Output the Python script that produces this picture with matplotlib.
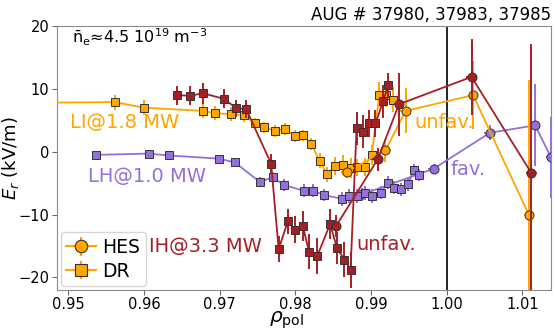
import matplotlib
matplotlib.use('Agg')
import matplotlib.pyplot as plt

# --- data: E_r profiles (kV/m) vs rho_pol ---
# LI @ 1.8 MW (orange)
li_dr_x = [0.9470, 0.9561, 0.9600, 0.9678, 0.9694, 0.9715, 0.9732, 0.9747, 0.9759, 0.9773,
           0.9786, 0.9800, 0.9810, 0.9821, 0.9832, 0.9842, 0.9853, 0.9863, 0.9873, 0.9882,
           0.9892, 0.9901, 0.9911, 0.9920, 0.9929]
li_dr_y = [7.8, 7.9, 7.0, 6.5, 6.1, 6.0, 5.8, 4.5, 3.9, 3.3,
           3.6, 2.5, 2.6, 1.2, -1.4, -3.6, -2.3, -2.1, -2.6, -2.5,
           -2.4, -0.5, 9.1, 9.1, 8.3]
li_dr_err = [1.2, 1.2, 1.2, 1.2, 1.1, 1.1, 1.1, 0.9, 0.9, 0.9,
             0.9, 0.9, 0.9, 1.0, 1.2, 1.2, 1.4, 1.6, 1.6, 1.4,
             1.4, 1.6, 2.0, 2.0, 2.0]
li_hes_x = [0.9868, 0.9919, 0.9946, 1.0035, 1.0109]
li_hes_y = [-3.2, 0.2, 6.5, 9.0, -10.1]
li_hes_err = [1.0, 1.8, 3.6, 5.4, 21.5]

# LH @ 1.0 MW (purple)
lh_dr_x = [0.9536, 0.9606, 0.9633, 0.9699, 0.9720, 0.9753, 0.9770, 0.9785, 0.9811, 0.9824,
           0.9838, 0.9862, 0.9871, 0.9882, 0.9892, 0.9901, 0.9913, 0.9922, 0.9931, 0.9940,
           0.9949, 0.9957, 0.9964]
lh_dr_y = [-0.5, -0.3, -0.6, -1.1, -1.7, -4.8, -4.1, -5.3, -6.2, -6.2,
           -6.9, -7.5, -7.1, -7.0, -6.6, -7.0, -6.5, -4.9, -5.7, -6.0,
           -5.2, -2.9, -3.7]
lh_dr_err = [0.4, 0.4, 0.4, 0.5, 0.5, 0.8, 0.9, 0.9, 1.0, 1.0,
             1.0, 1.1, 1.1, 1.1, 1.1, 1.1, 1.0, 1.0, 1.0, 1.0,
             1.0, 0.9, 0.9]
lh_hes_x = [0.9888, 0.9983, 1.0057, 1.0117, 1.0138]
lh_hes_y = [-6.8, -2.7, 3.0, 4.2, -0.9]
lh_hes_err = [1.0, 0.8, 1.2, 6.5, 6.5]

# IH @ 3.3 MW (dark red)
ih_dr_x = [0.9643, 0.9661, 0.9678, 0.9706, 0.9722, 0.9735, 0.9768, 0.9778, 0.9790, 0.9800,
           0.9810, 0.9818, 0.9829, 0.9846, 0.9855, 0.9865, 0.9873, 0.9881, 0.9890, 0.9898,
           0.9906, 0.9916, 0.9923]
ih_dr_y = [9.0, 8.9, 9.3, 8.4, 6.9, 6.8, -1.9, -15.5, -11.1, -12.4,
           -11.8, -15.9, -16.6, -11.5, -15.3, -17.2, -18.8, 3.7, 3.2, 4.5,
           4.5, 8.0, 10.6]
ih_dr_err = [1.5, 1.5, 1.7, 1.5, 1.4, 1.5, 1.5, 2.1, 2.0, 2.2,
             2.4, 2.8, 2.8, 2.4, 2.6, 2.8, 2.9, 2.6, 2.6, 2.2,
             2.2, 2.6, 2.0]
ih_hes_x = [0.9854, 0.9909, 0.9937, 1.0033, 1.0112]
ih_hes_y = [-11.8, -1.2, 7.55, 11.9, -3.4]
ih_hes_err = [1.8, 1.8, 5.0, 6.0, 20.5]

hes_xerr = 0.0007

c_li = '#ffa500'
c_lh = '#9370db'
c_ih = '#a61f24'

fig = plt.figure(figsize=(5.54, 3.32), dpi=100)
ax = fig.add_axes([0.1029, 0.1265, 0.8917, 0.7952])

def draw(x, y, err, color, marker, ms, xerr=None, z=3):
    ax.errorbar(x, y, yerr=err, xerr=xerr, color=color, marker=marker, ms=ms,
                mec='#333333', mew=0.7, lw=1.3, elinewidth=1.4, capsize=0, zorder=z)

draw(li_dr_x, li_dr_y, li_dr_err, c_li, 's', 5.3)
draw(lh_dr_x, lh_dr_y, lh_dr_err, c_lh, 's', 5.3)
draw(lh_hes_x, lh_hes_y, lh_hes_err, c_lh, 'o', 6.5, xerr=hes_xerr, z=2)
draw(li_hes_x, li_hes_y, li_hes_err, c_li, 'o', 6.5, xerr=hes_xerr)
draw(ih_dr_x, ih_dr_y, ih_dr_err, c_ih, 's', 5.3, z=4)
draw(ih_hes_x, ih_hes_y, ih_hes_err, c_ih, 'o', 6.5, xerr=hes_xerr, z=4)

ax.axvline(1.0, color='k', lw=1.2, zorder=1)

ax.set_xlim(0.9485, 1.0138)
ax.set_ylim(-22, 20)
ax.set_xticks([0.95, 0.96, 0.97, 0.98, 0.99, 1.00, 1.01])
ax.set_yticks([-20, -10, 0, 10, 20])
ax.set_xticklabels(['0.95', '0.96', '0.97', '0.98', '0.99', '1.00', '1.01'])
ax.tick_params(labelsize=10.5, color='0.4', pad=2)
ax.tick_params(axis='x', pad=1.5)
for sp in ax.spines.values():
    sp.set_color('0.55')

ax.set_xlabel(r'$\rho_\mathrm{pol}$', fontsize=14.5, va='bottom')
ax.xaxis.set_label_coords(0.465, -0.155)
ax.set_ylabel(r'$E_r$ (kV/m)', fontsize=13)
ax.yaxis.set_label_coords(-0.072, 0.5)
ax.set_title('AUG # 37980, 37983, 37985', loc='right', fontsize=12, pad=4)

ax.text(0.9505, 17.3, r'$\bar{\mathrm{n}}_\mathrm{e}$≈4.5 10$^{19}$ m$^{-3}$', fontsize=11.5)
ax.text(0.9502, 4.7, 'LI@1.8 MW', color=c_li, fontsize=14, va='center')
ax.text(0.9526, -3.9, 'LH@1.0 MW', color=c_lh, fontsize=14, va='center')
ax.text(0.9606, -15.1, 'IH@3.3 MW', color=c_ih, fontsize=14, va='center')
ax.text(0.9957, 4.6, 'unfav.', color=c_li, fontsize=14, va='center')
ax.text(1.0005, -2.9, 'fav.', color=c_lh, fontsize=14, va='center')
ax.text(0.9881, -14.7, 'unfav.', color=c_ih, fontsize=14, va='center')

# legend: orange markers with error bar crosses
h_hes = ax.errorbar([], [], yerr=[], xerr=[], color=c_li, marker='o', ms=9,
                    mec='#333333', mew=0.8, lw=1.5)
h_dr = ax.errorbar([], [], yerr=[], xerr=[], color=c_li, marker='s', ms=8,
                   mec='#333333', mew=0.8, lw=1.5)
ax.legend([h_hes, h_dr], ['HES', 'DR'], loc='lower left', fontsize=13.5,
          handlelength=1.6, handletextpad=0.3, borderpad=0.3, labelspacing=0.25,
          borderaxespad=0.2)

plt.savefig('out.png', dpi=100)
plt.close()
